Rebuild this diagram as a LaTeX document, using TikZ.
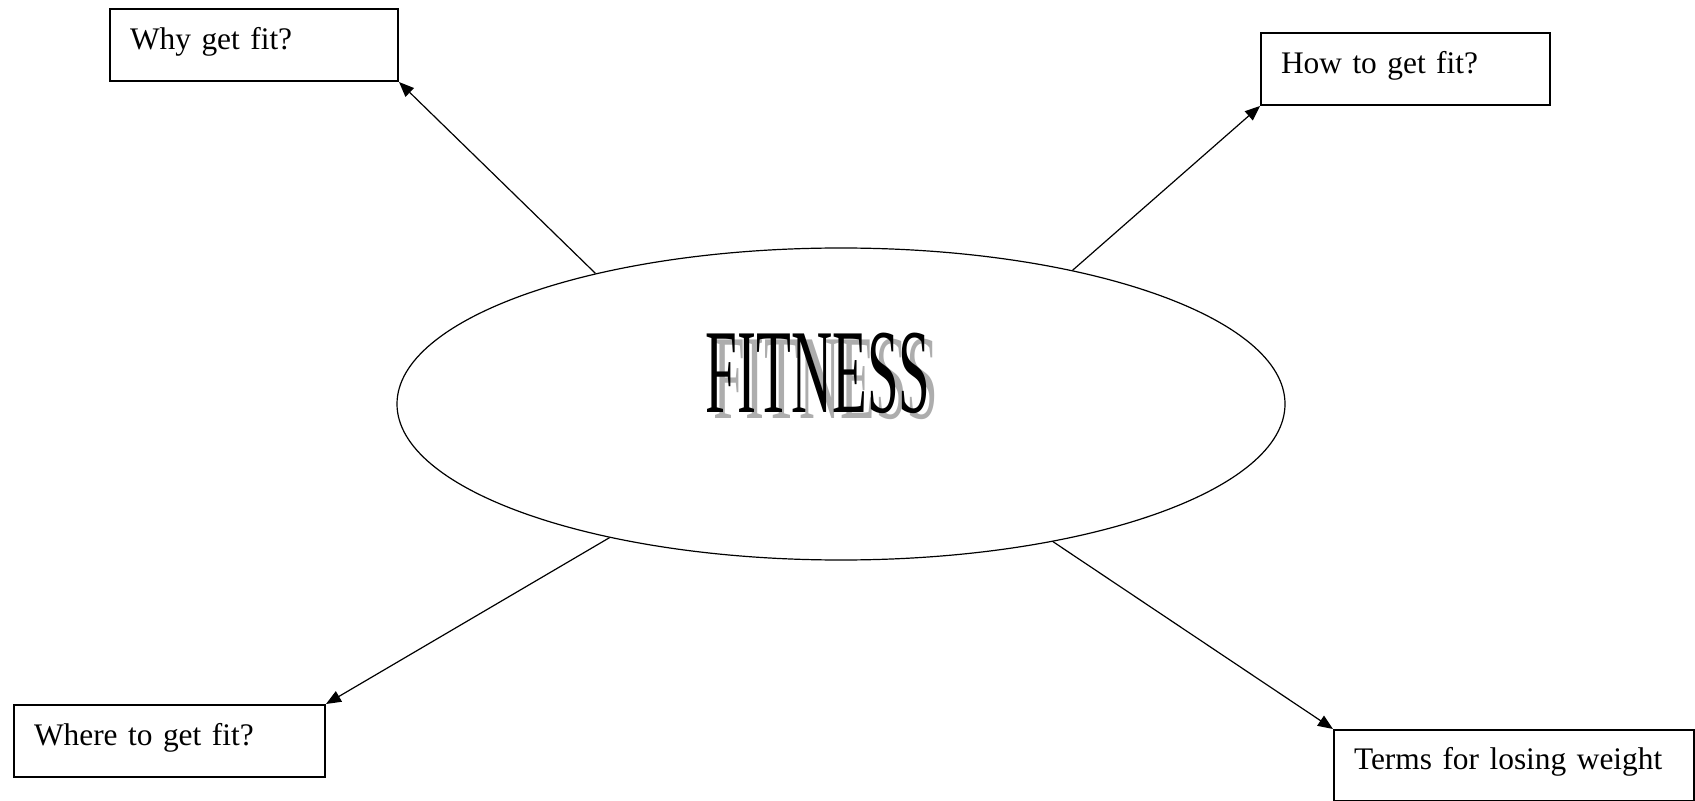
\documentclass[tikz,border=0pt]{standalone}
\usepackage{fontspec}
\setmainfont{Liberation Serif}
\usepackage{graphicx}
\usetikzlibrary{arrows.meta,shapes.geometric}

% condensed title with a grey drop shadow
\newcommand{\fitart}[1]{\scalebox{0.475}[1]{\fontsize{60}{60}\selectfont
  \rlap{\hspace{8.5pt}\smash{\raisebox{-3pt}{\color{black!32}#1}}}#1}}

\begin{document}
\begin{tikzpicture}[x=0.5pt,y=-0.5pt,
  bx/.style={draw,line width=1pt,anchor=north west,inner xsep=10pt,inner ysep=0pt,
             align=left,minimum height=36pt,text depth=7pt,
             font=\fontsize{15.7}{19}\selectfont},
  ar/.style={-{Triangle[length=7.5pt,width=6pt]},line width=0.6pt},
  el/.style={draw,ellipse,line width=0.6pt,inner sep=0pt,
             minimum width=444pt,minimum height=156pt},
]
\useasboundingbox (0,0) rectangle (1695,801);
% ============ centre ============
\node[el] (fit) at (841,404) {};
\node[inner sep=0pt] (title) at (818,373) {\fitart{FITNESS}};
% ============ questions ============
\node[bx,text width=124pt] (why) at (109,8) {Why get fit?};
\node[bx,text width=124.5pt] (how) at (1260,32) {How to get fit?};
\node[bx,text width=135.5pt] (where) at (13,704) {Where to get fit?};
\node[bx,text width=160pt,minimum height=35.5pt] (terms) at (1333,729) {Terms for losing weight};
% ============ arrows ============
\draw[ar] (fit.152) -- (why.south east);
\draw[ar] (fit.30) -- (how.south west);
\draw[ar] (fit.210) -- (where.north east);
\draw[ar] (fit.327) -- (terms.north west);
\end{tikzpicture}
\end{document}
